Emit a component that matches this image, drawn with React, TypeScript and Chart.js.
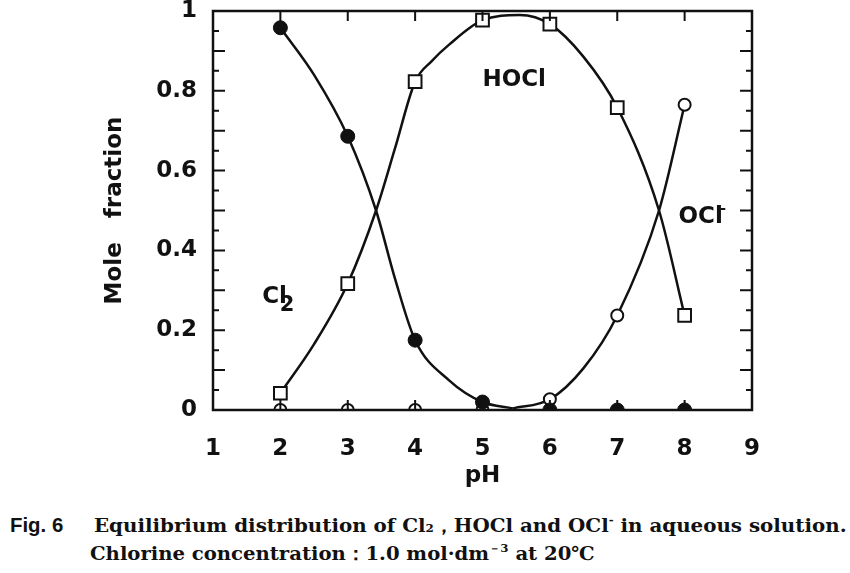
import React, { useEffect, useLayoutEffect, useRef } from 'react';
import { Chart, registerables } from 'chart.js';

Chart.register(...registerables);

// ---- data ----
const phTicks = [1, 2, 3, 4, 5, 6, 7, 8, 9];
const markerPH = [2, 3, 4, 5, 6, 7, 8];
const cl2Marks = [0.958, 0.686, 0.175, 0.02, 0, 0, 0];
const hoclMarks = [0.042, 0.317, 0.823, 0.977, 0.967, 0.758, 0.237];
const oclMarks = [0, 0, 0, 0, 0.027, 0.237, 0.765];

const cl2CurvePH = [2, 2.5, 3, 3.42, 3.7, 4, 4.5, 5, 5.45];
const cl2CurveVal = [0.958, 0.84, 0.686, 0.5, 0.33, 0.175, 0.075, 0.02, 0.004];
const hoclCurvePH = [2, 2.5, 3, 3.42, 3.7, 4, 4.25, 4.5, 5, 5.55, 6, 6.5, 7, 7.62, 8];
const hoclCurveVal = [0.042, 0.165, 0.317, 0.5, 0.655, 0.823, 0.875, 0.915, 0.977, 0.99, 0.967, 0.885, 0.758, 0.5, 0.237];
const oclCurvePH = [5.45, 6, 6.5, 7, 7.62, 8];
const oclCurveVal = [0.004, 0.027, 0.105, 0.237, 0.5, 0.765];

const yTickStep = 0.2;
const xTitle = 'pH';
const yTitle = 'Mole   fraction';

const INK = '#111';
const FONT = 'DejaVu Sans';

const pts = (xs: number[], ys: number[]) => xs.map((x, i) => ({ x, y: ys[i] }));

const framePlugin = {
  id: 'frameAndLabels',
  afterDatasetsDraw(chart: any) {
    const { ctx, chartArea: a, scales } = chart;
    const x = scales.x;
    const y = scales.y;
    ctx.save();
    ctx.strokeStyle = INK;
    ctx.lineWidth = 2.5;
    ctx.strokeRect(a.left, a.top, a.right - a.left, a.bottom - a.top);
    ctx.lineWidth = 2;
    ctx.beginPath();
    for (let i = 1; i < 20; i++) {
      const py = y.getPixelForValue(i * 0.05);
      const len = i % 2 === 0 ? 12 : 6;
      ctx.moveTo(a.left, py);
      ctx.lineTo(a.left + len, py);
      ctx.moveTo(a.right, py);
      ctx.lineTo(a.right - len, py);
    }
    for (const t of phTicks.slice(1, -1)) {
      const px = x.getPixelForValue(t);
      ctx.moveTo(px, a.top);
      ctx.lineTo(px, a.top + 10);
      ctx.moveTo(px, a.bottom);
      ctx.lineTo(px, a.bottom - 10);
    }
    ctx.stroke();

    ctx.fillStyle = INK;
    ctx.textBaseline = 'middle';
    ctx.font = `bold 23px "${FONT}"`;
    ctx.textAlign = 'center';
    ctx.fillText('HOCl', x.getPixelForValue(5.47), y.getPixelForValue(0.828));
    ctx.textAlign = 'left';
    ctx.fillText('Cl', x.getPixelForValue(1.73), y.getPixelForValue(0.282));
    ctx.font = `bold 21px "${FONT}"`;
    ctx.fillText('2', x.getPixelForValue(1.99), y.getPixelForValue(0.262));
    ctx.font = `bold 23px "${FONT}"`;
    ctx.fillText('OCl', x.getPixelForValue(7.91), y.getPixelForValue(0.483));
    ctx.font = `bold 14px "${FONT}"`;
    ctx.fillText('-', x.getPixelForValue(8.53), y.getPixelForValue(0.502));
    ctx.restore();
  },
};

const Fit: React.FC<{ left: number; top: number; width?: number; style?: React.CSSProperties; children: React.ReactNode }> = ({ left, top, width, style, children }) => {
  const ref = useRef<HTMLSpanElement>(null);
  useLayoutEffect(() => {
    const el = ref.current;
    if (!el || !width) return;
    const w = el.offsetWidth;
    if (w > 0) el.style.transform = `scaleX(${width / w})`;
  }, [width]);
  return (
    <span
      ref={ref}
      style={{
        position: 'absolute',
        left,
        top,
        whiteSpace: 'pre',
        display: 'inline-block',
        transformOrigin: '0 0',
        lineHeight: 1,
        color: INK,
        ...style,
      }}
    >
      {children}
    </span>
  );
};

export default function App() {
  const canvasRef = useRef<HTMLCanvasElement>(null);

  useEffect(() => {
    document.body.style.margin = '0';
    const canvas = canvasRef.current;
    if (!canvas) return;
    const tickFont = { family: FONT, size: 23, weight: 'bold' as const };
    const curve = (xs: number[], ys: number[]) => ({
      data: pts(xs, ys),
      showLine: true,
      borderColor: INK,
      borderWidth: 2.5,
      pointRadius: 0,
      cubicInterpolationMode: 'monotone' as const,
      fill: false,
    });
    const chart = new Chart(canvas, {
      type: 'line',
      data: {
        datasets: [
          {
            label: 'Cl2',
            data: pts(markerPH, cl2Marks),
            showLine: false,
            pointStyle: 'circle',
            pointRadius: 7,
            pointBackgroundColor: INK,
            pointBorderColor: INK,
            pointBorderWidth: 1,
          },
          {
            label: 'OCl-',
            data: pts(markerPH, oclMarks),
            showLine: false,
            pointStyle: 'circle',
            pointRadius: 6,
            pointBackgroundColor: '#fff',
            pointBorderColor: INK,
            pointBorderWidth: 2,
          },
          {
            label: 'HOCl',
            data: pts(markerPH, hoclMarks),
            showLine: false,
            pointStyle: 'rect',
            pointRadius: 9,
            pointBackgroundColor: '#fff',
            pointBorderColor: INK,
            pointBorderWidth: 2,
          },
          { label: 'Cl2 curve', ...curve(cl2CurvePH, cl2CurveVal) },
          { label: 'HOCl curve', ...curve(hoclCurvePH, hoclCurveVal) },
          { label: 'OCl- curve', ...curve(oclCurvePH, oclCurveVal) },
        ] as any,
      },
      options: {
        animation: false,
        responsive: false,
        devicePixelRatio: 1,
        events: [],
        layout: { padding: { left: 0, right: 98, top: 8, bottom: 0 } },
        plugins: { legend: { display: false }, tooltip: { enabled: false } },
        scales: {
          x: {
            type: 'linear',
            min: phTicks[0],
            max: phTicks[phTicks.length - 1],
            afterFit: (s: any) => {
              s.height = 90;
              s.paddingLeft = 0;
              s.paddingRight = 0;
            },
            ticks: { stepSize: 1, padding: 25, color: INK, font: tickFont, autoSkip: false, maxRotation: 0 },
            grid: { display: false, drawTicks: false },
            border: { display: false },
            title: { display: true, text: xTitle, color: INK, font: tickFont, padding: { top: 0, bottom: 10 } },
          },
          y: {
            type: 'linear',
            min: 0,
            max: 1,
            afterFit: (s: any) => {
              s.width = 213;
              s.paddingTop = 0;
              s.paddingBottom = 0;
            },
            ticks: {
              stepSize: yTickStep,
              padding: 16,
              color: INK,
              font: tickFont,
              callback: (v: any) => {
                const r = Math.round(Number(v) * 10) / 10;
                return r === 0 ? '0' : r === 1 ? '1' : r.toFixed(1);
              },
            },
            grid: { display: false, drawTicks: false },
            border: { display: false },
            title: { display: true, text: yTitle, color: INK, font: tickFont, padding: { top: 101, bottom: 0 } },
          },
        },
      } as any,
      plugins: [framePlugin],
    });
    return () => chart.destroy();
  }, []);

  const serif: React.CSSProperties = { fontFamily: '"DejaVu Serif", serif', fontWeight: 'bold', fontSize: 19 };

  return (
    <div style={{ position: 'relative', width: 850, height: 573, background: '#fff', overflow: 'hidden' }}>
      <canvas ref={canvasRef} width={850} height={500} style={{ position: 'absolute', left: 0, top: 0 }} />
      <Fit left={10} top={515} width={53} style={{ fontFamily: '"Liberation Sans", sans-serif', fontWeight: 'bold', fontSize: 20 }}>
        Fig. 6
      </Fit>
      <Fit left={94} top={515} width={753} style={serif}>
        Equilibrium distribution of Cl<span style={{ fontSize: '0.6em' }}>2</span>，HOCl and OCl
        <span style={{ fontSize: '0.6em', verticalAlign: '0.7em' }}>-</span> in aqueous solution.
      </Fit>
      <Fit left={90} top={543} width={505} style={serif}>
        Chlorine concentration：1.0 mol·dm<span style={{ fontSize: '0.6em', verticalAlign: '0.7em' }}>－3</span> at 20℃
      </Fit>
    </div>
  );
}
